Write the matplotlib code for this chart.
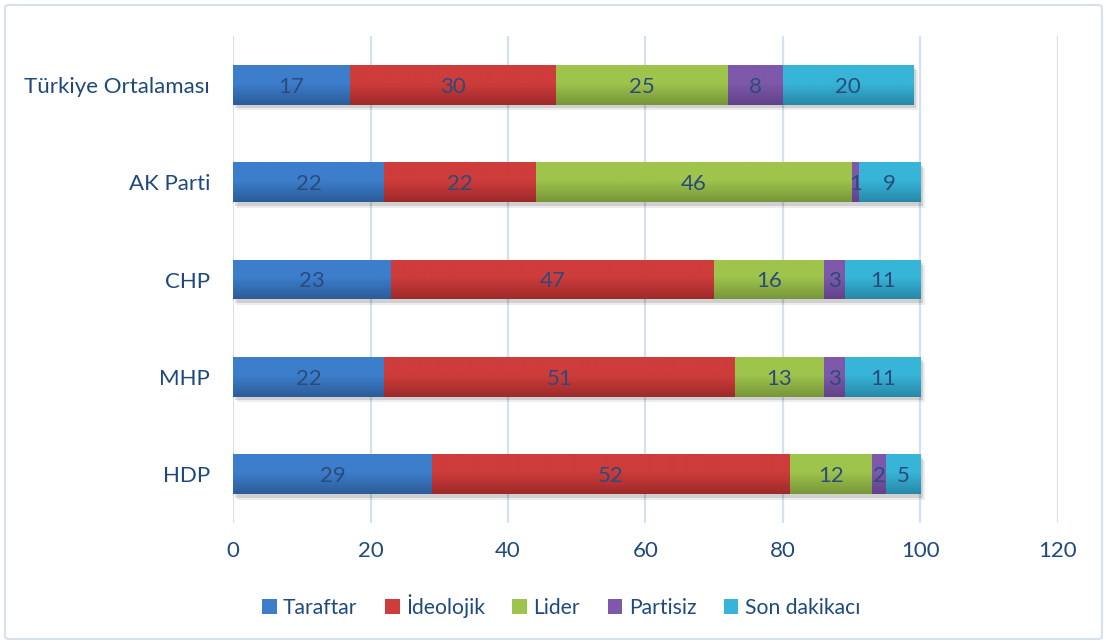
import matplotlib
matplotlib.use("Agg")
import matplotlib.pyplot as plt
import matplotlib.patheffects as pe
from matplotlib.colors import LinearSegmentedColormap
from matplotlib.patches import FancyBboxPatch, Patch
import numpy as np

plt.rcParams['font.family'] = ['Lato', 'DejaVu Sans']

categories = ["Türkiye Ortalaması", "AK Parti", "CHP", "MHP", "HDP"]
series_names = ["Taraftar", "İdeolojik", "Lider", "Partisiz", "Son dakikacı"]
taraftar = [17, 22, 23, 22, 29]
ideolojik = [30, 22, 47, 51, 52]
lider = [25, 46, 16, 13, 12]
partisiz = [8, 1, 3, 3, 2]
son_dakikaci = [19, 9, 11, 11, 5]
son_dakikaci_labels = ["20", "9", "11", "11", "5"]
series = [taraftar, ideolojik, lider, partisiz, son_dakikaci]

top_colors = ["#3D7ECC", "#CE3C3B", "#9EC44C", "#7E58AA", "#37B5D8"]
bot_colors = ["#2C5C99", "#9E2A2A", "#78963A", "#62428A", "#2888A8"]
txt = "#1F497D"

fig = plt.figure(figsize=(11.06, 6.43), dpi=100)
frame = FancyBboxPatch((5 / 1106, 4 / 643), 1097 / 1106, 634 / 643,
                       boxstyle="round,pad=0,rounding_size=0.004",
                       transform=fig.transFigure, facecolor="white",
                       edgecolor="#D6E1EE", linewidth=1.5, zorder=-10)
fig.patches.append(frame)
ax = fig.add_axes([233 / 1106, 1 - 523 / 643, 825 / 1106, 487 / 643])
ax.set_facecolor("none")

y = np.arange(len(categories))
left = np.zeros(len(categories))
h = 0.41
for si, vals in enumerate(series):
    vals = np.array(vals, dtype=float)
    cmap = LinearSegmentedColormap.from_list(
        "g%d" % si, [(0, top_colors[si]), (0.45, top_colors[si]), (1, bot_colors[si])])
    bars = ax.barh(y, vals, left=left, height=h, color=bot_colors[si], linewidth=0,
                   zorder=3,
                   path_effects=[pe.SimplePatchShadow(offset=(3, -4), shadow_rgbFace="#000000", alpha=0.07),
                                 pe.SimplePatchShadow(offset=(1.5, -2.5), shadow_rgbFace="#000000", alpha=0.12),
                                 pe.Normal()])
    for bi, b in enumerate(bars):
        x0 = b.get_x(); w = b.get_width(); yc = b.get_y()
        grad = np.linspace(0, 1, 50).reshape(-1, 1)
        im = ax.imshow(grad, extent=[x0, x0 + w, yc + h, yc], cmap=cmap, aspect="auto",
                       zorder=3.5, interpolation="bilinear")
        im.set_clip_path(b)
        lab = son_dakikaci_labels[bi] if si == 4 else "%g" % vals[bi]
        ax.text(x0 + w / 2, y[bi] + 0.02, lab, ha="center", va="center",
                fontsize=16, color="#2A4B7C", zorder=5)
    left += vals

ax.set_xlim(0, 120)
ax.set_ylim(len(categories) - 0.5, -0.5)
ax.set_xticks(np.arange(0, 121, 20))
ax.set_yticks(y)
ax.set_yticklabels(categories)
ax.tick_params(length=0, labelsize=16, labelcolor=txt)
ax.tick_params(axis="x", pad=13)
ax.tick_params(axis="y", pad=16.5)
ax.grid(axis="x", color="#D5E1F1", linewidth=1.6, zorder=0)
ax.set_axisbelow(True)
for s in ax.spines.values():
    s.set_visible(False)

handles = [Patch(facecolor=top_colors[i], edgecolor="none") for i in range(5)]
leg = fig.legend(handles, series_names, loc="center", bbox_to_anchor=(561 / 1106, 1 - 606 / 643),
                 ncol=5, frameon=False, fontsize=15.2, handlelength=0.7, handleheight=0.7,
                 handletextpad=0.3, columnspacing=1.3)
for t in leg.get_texts():
    t.set_color(txt)

fig.savefig("out.png", dpi=100)
